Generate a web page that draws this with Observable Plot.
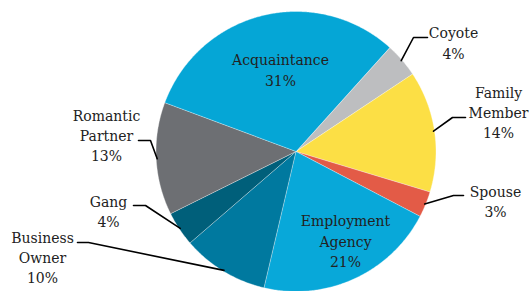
<!DOCTYPE html>
<html><head><meta charset="utf-8">
<script src="https://cdn.jsdelivr.net/npm/d3@7"></script>
<script src="https://cdn.jsdelivr.net/npm/@observablehq/plot@0.6"></script>
<style>html,body{margin:0;padding:0;background:#fff}</style>
</head><body><div id="chart"></div>
<script>
// ---- data ----
const categories = ["Coyote", "Family Member", "Spouse", "Employment Agency", "Business Owner", "Gang", "Romantic Partner", "Acquaintance"];
const shares = [4, 14, 3, 21, 10, 4, 13, 31];
const percentLabels = ["4%", "14%", "3%", "21%", "10%", "4%", "13%", "31%"];
const nameLines = ["Coyote", "Family\nMember", "Spouse", "Employment\nAgency", "Business\nOwner", "Gang", "Romantic\nPartner", "Acquaintance"];

// ---- style / layout ----
const sliceColors = ["#BDBEC0", "#FCDF45", "#E35B47", "#08A8D9", "#00799F", "#005F7A", "#6D6F73", "#05A6D6"];
const W = 529, H = 291, CX = 295.5, CY = 151, R = 140, START = 42;
const FONT = "'DejaVu Serif', 'Liberation Serif', serif";
// label block centre offsets (px from pie centre) and leader elbow/end offsets
const labelLayout = [
  {dx: 157.5, dy: -109.5, leader: [[117.5, -114], [131.5, -114]]},
  {dx: 202.5, dy: -40, leader: [[156.5, -34], [169.5, -34]]},
  {dx: 199.5, dy: 49, leader: [[157.5, 44], [167.5, 44]]},
  {dx: 49.5, dy: 88.5, leader: null},
  {dx: -253.5, dy: 105, leader: [[-207.5, 91], [-218.5, 91]]},
  {dx: -187.5, dy: 59, leader: [[-150.5, 54], [-162.5, 54]]},
  {dx: -189.5, dy: -17, leader: [[-145.5, -11], [-157.5, -11]]},
  {dx: -15.5, dy: -82.5, leader: null}
];

const total = d3.sum(shares);
const rad = a => a * Math.PI / 180;
const slicePts = [], leaderPts = [], labels = [];
let a0 = START;
categories.forEach((cat, i) => {
  const span = shares[i] / total * 360;
  const n = Math.max(4, Math.ceil(span * 2));
  slicePts.push({cat, x: 0, y: 0});
  for (let k = 0; k <= n; k++) {
    const a = rad(a0 + span * k / n);
    slicePts.push({cat, x: R * Math.sin(a), y: -R * Math.cos(a)});
  }
  const mid = rad(a0 + span / 2);
  const L = labelLayout[i];
  if (L.leader) {
    leaderPts.push({cat, x: (R - 1) * Math.sin(mid), y: -(R - 1) * Math.cos(mid)});
    L.leader.forEach(([x, y]) => leaderPts.push({cat, x, y}));
  }
  labels.push({x: L.dx, y: L.dy, text: nameLines[i] + "\n" + percentLabels[i]});
  a0 += span;
});

const chart = Plot.plot({
  width: W, height: H, margin: 0,
  style: {background: "#fff", fontFamily: FONT},
  x: {domain: [-CX, W - CX], range: [0, W], axis: null},
  y: {domain: [-CY, H - CY], range: [0, H], axis: null},
  color: {domain: categories, range: sliceColors},
  marks: [
    Plot.line(slicePts, {x: "x", y: "y", z: "cat", fill: "cat", stroke: "#ffffff", strokeWidth: 0.6, strokeOpacity: 0.6, curve: "linear-closed"}),
    Plot.line(leaderPts, {x: "x", y: "y", z: "cat", stroke: "#000", strokeWidth: 1.6}),
    Plot.text(labels, {x: "x", y: "y", text: "text", fontSize: 14, lineHeight: 1.45, fill: "#222", fontFamily: FONT})
  ]
});
document.getElementById("chart").appendChild(chart);
</script>
</body></html>
